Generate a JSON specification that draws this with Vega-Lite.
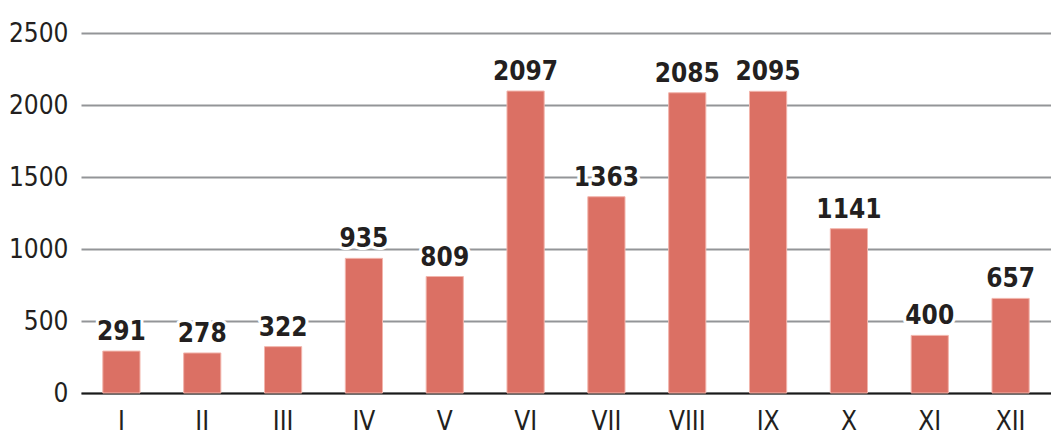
{
  "$schema": "https://vega.github.io/schema/vega-lite/v6.json",
  "width": 970,
  "height": 360,
  "autosize": "none",
  "padding": {"left": 81, "top": 33, "right": 0, "bottom": 41},
  "background": "white",
  "config": {
    "view": {"stroke": null},
    "font": "DejaVu Sans Condensed, sans-serif"
  },
  "data": {
    "values": [
      {"month": "I", "value": 291},
      {"month": "II", "value": 278},
      {"month": "III", "value": 322},
      {"month": "IV", "value": 935},
      {"month": "V", "value": 809},
      {"month": "VI", "value": 2097},
      {"month": "VII", "value": 1363},
      {"month": "VIII", "value": 2085},
      {"month": "IX", "value": 2095},
      {"month": "X", "value": 1141},
      {"month": "XI", "value": 400},
      {"month": "XII", "value": 657}
    ]
  },
  "encoding": {
    "x": {
      "field": "month",
      "type": "nominal",
      "sort": null,
      "scale": {"paddingInner": 0.54, "paddingOuter": 0.27},
      "axis": {
        "title": null,
        "labelAngle": 0,
        "ticks": false,
        "domain": true,
        "domainColor": "#1a1a1a",
        "domainWidth": 2,
        "labelFontSize": 26,
        "labelColor": "#231f20",
        "labelPadding": 15,
        "labelFont": "DejaVu Sans Condensed, sans-serif"
      }
    },
    "y": {
      "field": "value",
      "type": "quantitative",
      "scale": {"domain": [0, 2500]},
      "axis": {
        "title": null,
        "values": [0, 500, 1000, 1500, 2000, 2500],
        "format": "d",
        "ticks": false,
        "domain": false,
        "grid": true,
        "gridColor": "#939598",
        "gridWidth": 2,
        "labelFontSize": 26,
        "labelColor": "#231f20",
        "labelPadding": 13,
        "labelFont": "DejaVu Sans Condensed, sans-serif"
      }
    }
  },
  "layer": [
    {
      "mark": {"type": "bar", "color": "#db7064", "stroke": "#f2b5ac", "strokeWidth": 1}
    },
    {
      "mark": {
        "type": "text",
        "baseline": "alphabetic",
        "dy": -11,
        "fontSize": 26,
        "fontWeight": "bold",
        "stroke": "white",
        "strokeWidth": 6,
        "strokeJoin": "round",
        "color": "white"
      },
      "encoding": {"text": {"field": "value", "type": "quantitative", "format": "d"}}
    },
    {
      "mark": {
        "type": "text",
        "baseline": "alphabetic",
        "dy": -11,
        "fontSize": 26,
        "fontWeight": "bold",
        "color": "#231f20"
      },
      "encoding": {"text": {"field": "value", "type": "quantitative", "format": "d"}}
    }
  ]
}
